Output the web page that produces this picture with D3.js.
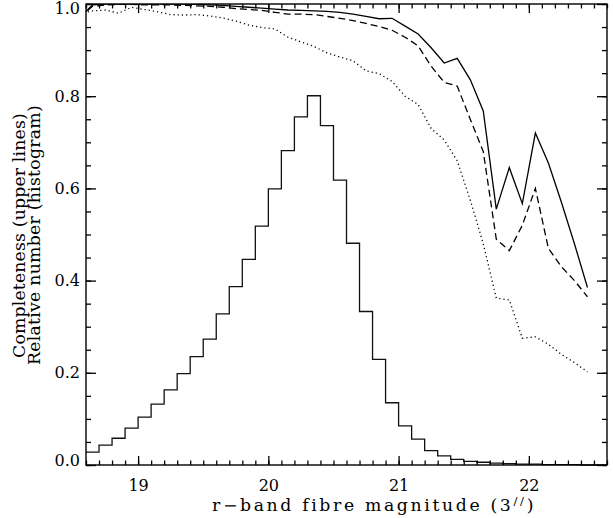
<!DOCTYPE html>
<html>
<head>
<meta charset="utf-8">
<script src="https://cdn.jsdelivr.net/npm/d3@7"></script>
<style>
  body { margin: 0; background: #fff; }
  svg { display: block; }
  text { font-family: "DejaVu Serif", serif; fill: #000; }
</style>
</head>
<body>
<svg id="chart"></svg>
<script>
// histogram: left edge of each 0.1 mag bin and its relative number
const binEdges = [18.6, 18.7, 18.8, 18.9, 19.0, 19.1, 19.2, 19.3, 19.4, 19.5,
  19.6, 19.7, 19.8, 19.9, 20.0, 20.1, 20.2, 20.3, 20.4, 20.5,
  20.6, 20.7, 20.8, 20.9, 21.0, 21.1, 21.2, 21.3, 21.4, 21.5,
  21.6, 21.7, 21.8, 21.9, 22.0, 22.1, 22.2, 22.3, 22.4, 22.5];
const histValues = [0.028, 0.043, 0.058, 0.080, 0.104, 0.132, 0.163, 0.198, 0.235, 0.273,
  0.328, 0.387, 0.446, 0.518, 0.599, 0.682, 0.755, 0.801, 0.736, 0.618,
  0.481, 0.333, 0.229, 0.135, 0.085, 0.056, 0.031, 0.020, 0.012, 0.008,
  0.006, 0.004, 0.003, 0.002, 0.002, 0.001, 0.001, 0.001, 0.000, 0.000];

// completeness curves, sampled at bin centres
const curveMags = [18.55, 18.65, 18.75, 18.85, 18.95, 19.05, 19.15, 19.25, 19.35, 19.45,
  19.55, 19.65, 19.75, 19.85, 19.95, 20.05, 20.15, 20.25, 20.35, 20.45,
  20.55, 20.65, 20.75, 20.85, 20.95, 21.05, 21.15, 21.25, 21.35, 21.45,
  21.55, 21.65, 21.75, 21.85, 21.95, 22.05, 22.15, 22.25, 22.35, 22.45];
const solidValues = [0.970, 0.998, 1.000, 1.000, 1.000, 1.000, 1.000, 1.000, 1.000, 0.999,
  0.998, 0.997, 0.995, 0.993, 0.991, 0.989, 0.987, 0.986, 0.985, 0.984,
  0.982, 0.978, 0.973, 0.968, 0.969, 0.952, 0.935, 0.905, 0.872, 0.882,
  0.836, 0.768, 0.555, 0.645, 0.567, 0.720, 0.655, 0.570, 0.480, 0.385];
const dashedValues = [0.970, 0.995, 0.998, 0.999, 0.999, 0.998, 0.998, 0.998, 0.997, 0.996,
  0.995, 0.993, 0.990, 0.988, 0.986, 0.982, 0.978, 0.978, 0.977, 0.973,
  0.969, 0.964, 0.958, 0.951, 0.943, 0.928, 0.909, 0.865, 0.830, 0.822,
  0.750, 0.680, 0.490, 0.465, 0.520, 0.600, 0.470, 0.430, 0.400, 0.365];
const dottedValues = [0.980, 0.985, 0.987, 0.980, 0.993, 0.988, 0.983, 0.977, 0.976, 0.977,
  0.974, 0.970, 0.963, 0.954, 0.949, 0.946, 0.928, 0.918, 0.908, 0.894,
  0.885, 0.877, 0.855, 0.849, 0.832, 0.800, 0.782, 0.730, 0.705, 0.660,
  0.575, 0.480, 0.362, 0.358, 0.275, 0.278, 0.262, 0.240, 0.222, 0.202];

const xTicks = [19, 20, 21, 22];
const yTicks = [0, 0.2, 0.4, 0.6, 0.8, 1.0];
const yTickLabels = ['0.0', '0.2', '0.4', '0.6', '0.8', '1.0'];

const W = 613, H = 518;
const margin = { top: 4, right: 6, bottom: 53, left: 86 };
const width = W - margin.left - margin.right;
const height = H - margin.top - margin.bottom;

const svg = d3.select('#chart').attr('width', W).attr('height', H);
const g = svg.append('g').attr('transform', `translate(${margin.left},${margin.top})`);

const x = d3.scaleLinear().domain([18.6, 22.6]).range([0, width]);
const y = d3.scaleLinear().domain([0, 1]).range([height, 0]);

g.append('clipPath').attr('id', 'plot-clip')
  .append('rect').attr('width', width).attr('height', height);

// histogram as a step line
const histPoints = binEdges.map((e, i) => [e, histValues[i]]);
histPoints.push([22.6, histValues[histValues.length - 1]]);
g.append('path')
  .datum(histPoints)
  .attr('fill', 'none')
  .attr('stroke', '#111')
  .attr('stroke-width', 1.3)
  .attr('d', d3.line().x(d => x(d[0])).y(d => y(d[1])).curve(d3.curveStepAfter));

// completeness lines
const line = d3.line().x((d, i) => x(curveMags[i])).y(d => y(d));
const curves = [
  { values: solidValues, dash: null },
  { values: dashedValues, dash: '7,4' },
  { values: dottedValues, dash: '1.2,3' }
];
g.append('g').attr('clip-path', 'url(#plot-clip)')
  .selectAll('path')
  .data(curves)
  .join('path')
  .attr('fill', 'none')
  .attr('stroke', '#000')
  .attr('stroke-width', 1.3)
  .attr('stroke-dasharray', d => d.dash)
  .attr('d', d => line(d.values));

// axes, ticks pointing inwards on all four sides
function styleAxis(sel) {
  sel.select('.domain').remove();
  sel.selectAll('line').attr('stroke', '#000').attr('stroke-width', 1.3);
  sel.selectAll('text').attr('font-size', 16).attr('font-family', '"DejaVu Serif", serif');
}

g.append('g').attr('transform', `translate(0,${height})`)
  .call(d3.axisBottom(x).tickValues(xTicks).tickFormat(d3.format('d')).tickSize(-9).tickPadding(15))
  .call(styleAxis);
g.append('g').attr('transform', `translate(0,${height})`)
  .call(d3.axisBottom(x).ticks(40).tickFormat('').tickSize(-4.5))
  .call(styleAxis);
g.append('g')
  .call(d3.axisTop(x).tickValues(xTicks).tickFormat('').tickSize(-9))
  .call(styleAxis);
g.append('g')
  .call(d3.axisTop(x).ticks(40).tickFormat('').tickSize(-4.5))
  .call(styleAxis);

const yAxis = g.append('g')
  .call(d3.axisLeft(y).tickValues(yTicks).tickFormat((d, i) => yTickLabels[i]).tickSize(-10).tickPadding(6))
  .call(styleAxis);
// the end labels sit a little inside the frame
yAxis.selectAll('text').attr('dy', (d, i) => i === 0 ? '-0.0em' : i === yTicks.length - 1 ? '0.62em' : '0.32em');
g.append('g')
  .call(d3.axisLeft(y).ticks(20).tickFormat('').tickSize(-5))
  .call(styleAxis);
g.append('g').attr('transform', `translate(${width},0)`)
  .call(d3.axisRight(y).tickValues(yTicks).tickFormat('').tickSize(-10))
  .call(styleAxis);
g.append('g').attr('transform', `translate(${width},0)`)
  .call(d3.axisRight(y).ticks(20).tickFormat('').tickSize(-5))
  .call(styleAxis);

g.append('rect')
  .attr('width', width).attr('height', height)
  .attr('fill', 'none').attr('stroke', '#000').attr('stroke-width', 1.4);

// widen a label to a target length: a little horizontal stretch,
// the rest as letter spacing (the original font is wide and airy)
function fitWidth(text, target, place) {
  const n = text.text().length;
  const w = text.node().getComputedTextLength();
  const s = Math.min(1.08, target / w);
  text.attr('letter-spacing', ((target / s - w) / n).toFixed(2));
  text.attr('transform', `${place} scale(${s.toFixed(3)},1)`);
}

// x label
const xLabel = svg.append('text')
  .attr('font-size', 16);
xLabel.append('tspan').text('r\u2212band fibre magnitude (3');
xLabel.append('tspan').attr('font-size', 11).attr('dy', -6).text('//');
xLabel.append('tspan').attr('dy', 6).text(')');
fitWidth(xLabel, 324, 'translate(212,511)');

// y label, two lines
const yLab1 = svg.append('text')
  .attr('font-size', 16)
  .text('Completeness (upper lines)');
fitWidth(yLab1, 245, 'translate(25,358) rotate(-90)');
const yLab2 = svg.append('text')
  .attr('font-size', 16)
  .text('Relative number (histogram)');
fitWidth(yLab2, 260, 'translate(39.5,365) rotate(-90)');
</script>
</body>
</html>
